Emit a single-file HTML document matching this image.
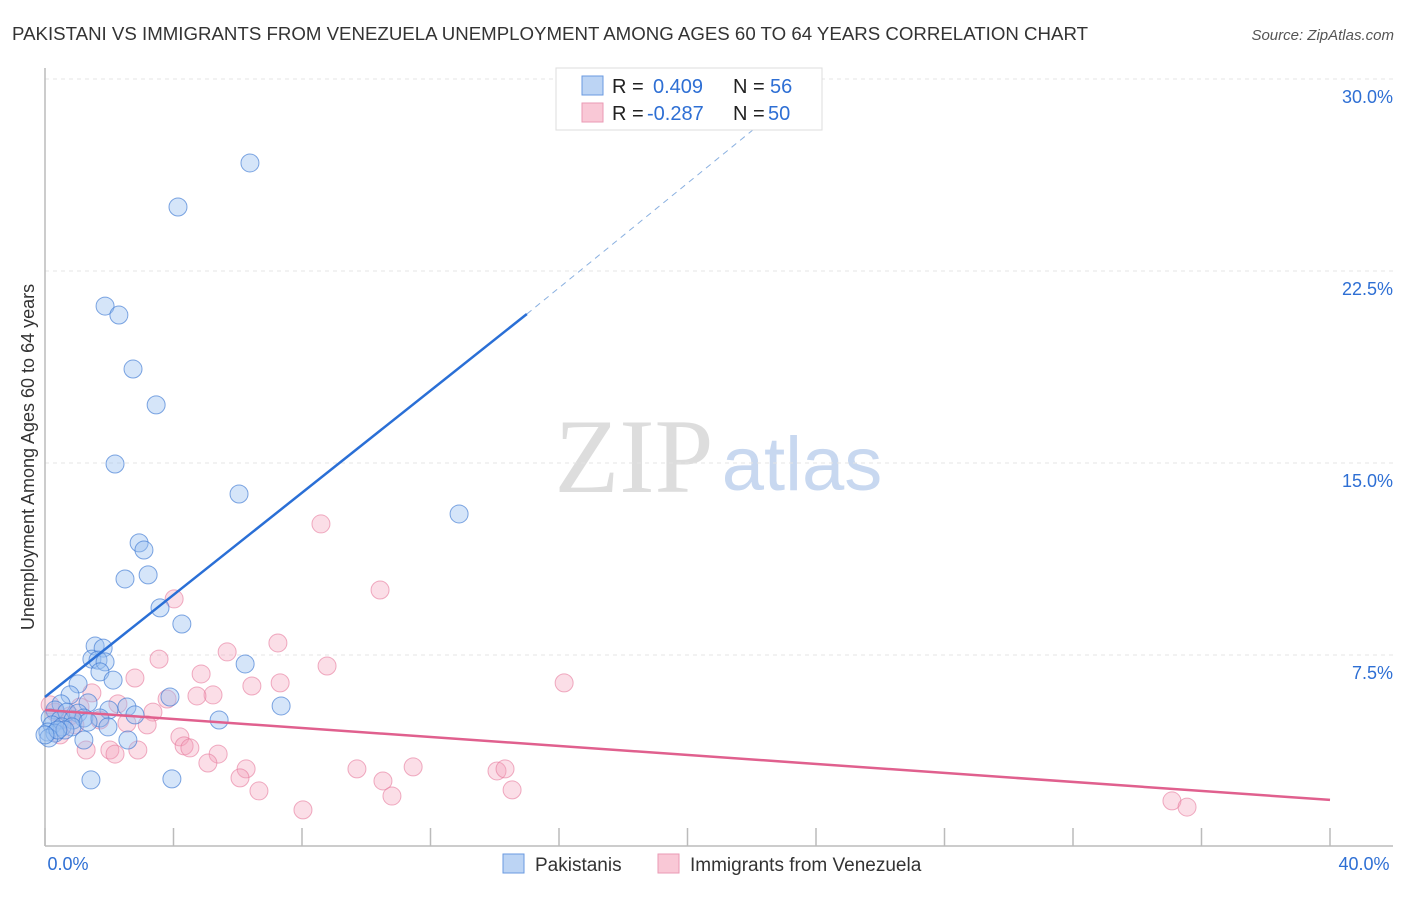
<!DOCTYPE html>
<html><head><meta charset="utf-8"><style>
body{margin:0;background:#fff;font-family:"Liberation Sans",sans-serif}
</style></head><body>
<svg id="c" width="1406" height="892" xmlns="http://www.w3.org/2000/svg">
<text x="12" y="40" font-size="18" fill="#333" textLength="1076" lengthAdjust="spacingAndGlyphs">PAKISTANI VS IMMIGRANTS FROM VENEZUELA UNEMPLOYMENT AMONG AGES 60 TO 64 YEARS CORRELATION CHART</text>
<text x="1394" y="40" font-size="15" fill="#555" font-style="italic" text-anchor="end">Source: ZipAtlas.com</text>
<text x="634" y="492" font-size="106" fill="#ddd" font-family="Liberation Serif,serif" text-anchor="middle">ZIP</text>
<text x="802" y="490" font-size="76" fill="#c8d8f0" text-anchor="middle">atlas</text>
<g id="grid"></g><g id="axes"></g><g id="pts"></g><g id="lines"></g>
<text transform="translate(34,457) rotate(-90)" font-size="18" fill="#333" text-anchor="middle">Unemployment Among Ages 60 to 64 years</text>
<g>
<rect x="556" y="68" width="266" height="62" fill="#fff" stroke="#ddd"/>
<rect x="582" y="76" width="21" height="19" fill="#bcd4f4" stroke="#6a9ae0"/>
<rect x="582" y="103" width="21" height="19" fill="#f9c8d6" stroke="#ea9ab4"/>
<text x="612" y="93" font-size="20" fill="#222">R =</text>
<text x="653" y="93" font-size="20" fill="#2e6fd4">0.409</text>
<text x="733" y="93" font-size="20" fill="#222">N =</text>
<text x="770" y="93" font-size="20" fill="#2e6fd4">56</text>
<text x="612" y="120" font-size="20" fill="#222">R =</text>
<text x="647" y="120" font-size="20" fill="#2e6fd4">-0.287</text>
<text x="733" y="120" font-size="20" fill="#222">N =</text>
<text x="768" y="120" font-size="20" fill="#2e6fd4">50</text>
</g>
<g>
<rect x="503" y="854" width="21" height="19" fill="#bcd4f4" stroke="#6a9ae0"/>
<text x="535" y="871" font-size="19" fill="#333">Pakistanis</text>
<rect x="658" y="854" width="21" height="19" fill="#f9c8d6" stroke="#ea9ab4"/>
<text x="690" y="871" font-size="19" fill="#333">Immigrants from Venezuela</text>
</g>
</svg>
<script>
const blueX=[6.38,4.14,1.87,2.30,2.74,3.46,2.18,6.04,12.89,2.93,3.08,2.49,3.21,3.58,4.26,1.56,1.81,1.46,1.65,1.87,6.23,1.71,2.12,1.03,0.78,3.89,0.50,1.34,7.35,2.55,1.99,2.80,0.31,0.68,1.03,1.21,0.16,0.47,0.87,5.42,1.71,0.22,0.53,0.84,1.34,0.09,0.31,0.62,1.96,2.58,1.21,0.12,1.43,3.95,0.40,0.0];
const blueY=[26.72,25.0,21.13,20.78,18.67,17.27,14.96,13.79,13.01,11.88,11.60,10.47,10.63,9.34,8.71,7.85,7.77,7.34,7.30,7.23,7.15,6.84,6.52,6.37,5.94,5.86,5.59,5.63,5.51,5.47,5.35,5.16,5.35,5.27,5.23,5.04,5.04,4.96,4.96,4.96,5.04,4.77,4.69,4.69,4.88,4.49,4.45,4.57,4.69,4.18,4.18,4.26,2.62,2.66,4.57,4.38];
const pinkX=[8.59,10.43,4.02,7.25,5.67,3.55,8.78,4.86,2.80,7.32,16.16,6.44,1.46,5.23,4.73,3.80,2.27,3.36,1.09,2.55,3.18,0.56,0.31,0.78,0.16,4.20,4.33,4.51,2.02,2.89,1.28,2.18,5.39,5.07,6.26,9.71,11.46,14.07,14.32,6.07,10.52,6.66,10.80,14.54,8.03,35.08,35.55,0.47,1.71,0.93];
const pinkY=[12.62,10.04,9.69,7.97,7.62,7.34,7.07,6.76,6.60,6.41,6.41,6.29,6.02,5.94,5.90,5.78,5.59,5.27,5.47,4.84,4.77,4.96,5.27,5.12,5.55,4.30,3.95,3.87,3.79,3.79,3.79,3.63,3.63,3.28,3.05,3.05,3.13,2.97,3.05,2.70,2.58,2.19,1.99,2.23,1.45,1.80,1.56,4.38,4.96,4.77];
const yTicks=[7.5,15,22.5,30];
const yTickLabels=["7.5%","15.0%","22.5%","30.0%"];
const xTicks=[0,4,8,12,16,20,24,28,32,36,40];
const blueTrend=[[0,5.86],[15,20.82]];
const blueDash=[[15,20.82],[23.2,29.2]];
const pinkTrend=[[0,5.35],[40,1.84]];
const NS="http://www.w3.org/2000/svg";
const X=v=>45+v*32.125, Y=v=>847-v*25.6;
function mk(p,t,a){const e=document.createElementNS(NS,t);for(const k in a)e.setAttribute(k,a[k]);p.appendChild(e);return e;}
const g=document.getElementById('grid'),ax=document.getElementById('axes'),pts=document.getElementById('pts'),ln=document.getElementById('lines');
yTicks.forEach((t,i)=>{const l=mk(g,'line',{x1:45,x2:1393,y1:Y(t),y2:Y(t),stroke:'#e4e4e4','stroke-dasharray':'4,4'});


const tx=mk(g,'text',{x:1393,y:Y(t)+24,'font-size':18,fill:'#2e6fd4','text-anchor':'end'});tx.textContent=yTickLabels[i];

});
const a1=mk(ax,'line',{x1:45,x2:45,y1:68,y2:846,stroke:'#bbb','stroke-width':1.5});


const a2=mk(ax,'line',{x1:45,x2:1393,y1:846,y2:846,stroke:'#bbb','stroke-width':1.5});


xTicks.forEach(t=>{const l=mk(ax,'line',{x1:X(t),x2:X(t),y1:828,y2:846,stroke:'#bbb','stroke-width':1.5});

});
const xl0=mk(ax,'text',{x:68,y:870,'font-size':18,fill:'#2e6fd4','text-anchor':'middle'});xl0.textContent='0.0%';


const xl1=mk(ax,'text',{x:1364,y:870,'font-size':18,fill:'#2e6fd4','text-anchor':'middle'});xl1.textContent='40.0%';


pinkX.forEach((v,i)=>{const c=mk(pts,'circle',{cx:X(v),cy:Y(pinkY[i]),r:9,fill:'rgba(244,160,186,0.35)',stroke:'rgba(230,120,155,0.6)','stroke-width':1});

});
blueX.forEach((v,i)=>{const c=mk(pts,'circle',{cx:X(v),cy:Y(blueY[i]),r:9,fill:'rgba(150,190,240,0.4)',stroke:'rgba(60,120,210,0.65)','stroke-width':1});

});
const b=mk(ln,'line',{x1:X(blueTrend[0][0]),y1:Y(blueTrend[0][1]),x2:X(blueTrend[1][0]),y2:Y(blueTrend[1][1]),stroke:'#2a6fd6','stroke-width':2.5});


const bd=mk(ln,'line',{x1:X(blueDash[0][0]),y1:Y(blueDash[0][1]),x2:X(blueDash[1][0]),y2:Y(blueDash[1][1]),stroke:'#8ab0e0','stroke-width':1,'stroke-dasharray':'6,5'});


const p=mk(ln,'line',{x1:X(pinkTrend[0][0]),y1:Y(pinkTrend[0][1]),x2:X(pinkTrend[1][0]),y2:Y(pinkTrend[1][1]),stroke:'#e0608e','stroke-width':2.5});


</script>
</body></html>
